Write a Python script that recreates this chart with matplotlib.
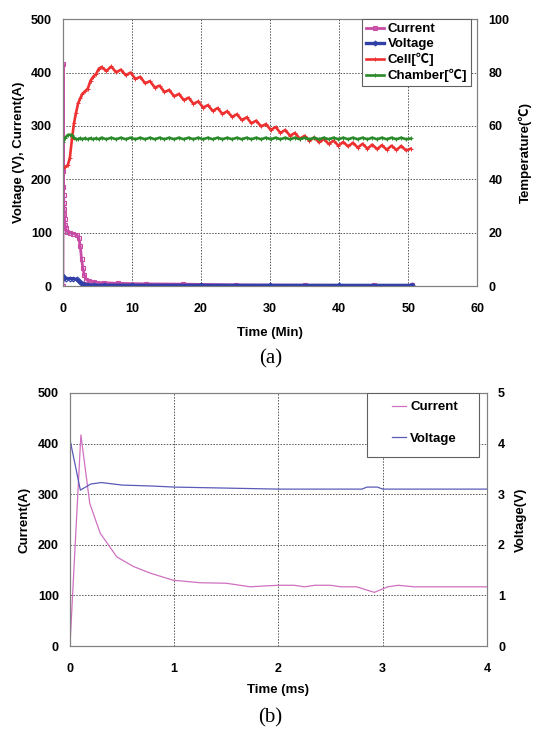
import matplotlib
matplotlib.use("Agg")
import matplotlib.pyplot as plt
from matplotlib.patches import Rectangle

plt.rcParams['font.family'] = ['Liberation Sans', 'Noto Sans CJK KR', 'DejaVu Sans']
plt.rcParams['font.weight'] = 'bold'

# ---- (a) long run, minutes ----
t_cur = [0, 0.02, 0.05, 0.08, 0.11, 0.14, 0.17, 0.2, 0.25, 0.3, 0.4, 0.6, 1.0, 1.5, 2.0,
         2.3, 2.5, 2.7, 2.9, 3.1, 3.4, 3.8, 4.5, 6, 8, 12, 17.4, 25, 35, 45, 50.6]
current_a = [0, 417, 215, 185, 170, 155, 145, 135, 125, 115, 108, 102, 100, 98, 96,
             90, 75, 50, 33, 20, 12, 9, 7, 6, 5, 4, 3.5, 2, 1.5, 1, 1]

t_vol = [0, 0.1, 0.5, 1.0, 1.5, 2.0, 2.3, 2.6, 2.9, 3.2, 3.6, 4.5, 6, 10, 20, 30, 40, 50.6]
voltage_a = [19, 15, 14, 14, 13.5, 12.5, 10, 6, 3.5, 2.5, 2, 1.6, 1.5, 1.4, 1.3, 1.2, 1.2, 1.2]

t_temp = [0, 0.3, 0.7, 1.0, 1.3, 1.6, 1.9, 2.2, 2.5, 2.8, 3.2, 3.6, 4.0, 4.4, 4.8, 5.2,
          5.6, 6.3, 7.0, 7.7, 8.4, 9.1, 9.8, 10.5, 11.2, 11.9, 12.6, 13.3, 14.0, 14.7,
          15.4, 16.1, 16.8, 17.5, 18.2, 18.9, 19.6, 20.3, 21.0, 21.7, 22.4, 23.1, 23.8,
          24.5, 25.2, 25.9, 26.6, 27.3, 28.0, 28.7, 29.4, 30.1, 30.8, 31.5, 32.2, 32.9,
          33.6, 34.3, 35.0, 35.7, 36.4, 37.1, 37.8, 38.5, 39.2, 39.9, 40.6, 41.3, 42.0,
          42.7, 43.4, 44.1, 44.8, 45.5, 46.2, 46.9, 47.6, 48.3, 49.0, 49.7, 50.4]
cell = [44.2, 44.5, 45.3, 48.0, 55.0, 61.0, 65.0, 68.5, 70.3, 72.0, 73.0, 74.0, 77.0, 78.5, 79.5, 81.5,
        82.1, 80.6, 82.3, 80.1, 81.1, 79.0, 80.0, 77.6, 78.4, 76.0, 76.8, 74.4, 75.1, 72.7,
        73.5, 71.1, 72.0, 69.7, 70.6, 68.3, 69.2, 66.9, 67.8, 65.6, 66.7, 64.5, 65.5,
        63.4, 64.4, 62.2, 63.2, 61.0, 62.0, 59.8, 60.7, 58.5, 59.6, 57.4, 58.5, 56.3,
        57.4, 55.2, 56.3, 54.4, 55.7, 53.8, 55.1, 53.2, 54.5, 52.6, 54.0, 52.3, 53.7,
        51.9, 53.3, 51.5, 53.0, 51.3, 52.8, 51.1, 52.6, 51.0, 52.5, 50.8, 51.5]
chamber = [54.0, 55.5, 56.6, 56.7, 56.5, 55.6, 55.1, 55.0, 55.4, 55.0, 55.4, 55.0, 55.4, 55.0, 55.4, 55.0,
           55.6, 55.0, 55.6, 55.0, 55.6, 55.0, 55.6, 55.0, 55.6, 55.0, 55.6, 55.0, 55.6, 55.0,
           55.6, 55.0, 55.6, 55.0, 55.6, 55.0, 55.6, 55.0, 55.6, 55.0, 55.6, 55.0, 55.6,
           55.0, 55.6, 55.0, 55.6, 55.0, 55.6, 55.0, 55.6, 55.0, 55.6, 55.0, 55.6, 55.0,
           55.6, 55.0, 55.6, 55.0, 55.6, 55.0, 55.6, 55.0, 55.6, 55.0, 55.6, 55.0, 55.6,
           55.0, 55.6, 55.0, 55.6, 55.0, 55.6, 55.0, 55.6, 55.0, 55.6, 55.0, 55.3]

# ---- (b) first milliseconds ----
t_b_cur = [0, 0.105, 0.19, 0.29, 0.45, 0.61, 0.77, 0.99, 1.25, 1.5, 1.73, 1.9, 2.0, 2.15,
           2.25, 2.35, 2.5, 2.6, 2.75, 2.92, 3.05, 3.15, 3.3, 3.6, 4.0]
current_b = [0, 417, 282, 223, 176, 157, 144, 130, 125, 124, 117, 119, 120, 120,
             117, 120, 120, 117, 117, 106, 117, 120, 117, 117, 117]
t_b_vol = [0, 0.1, 0.2, 0.3, 0.5, 0.8, 1.0, 1.5, 2.0, 2.8, 2.85, 2.95, 3.0, 4.0]
voltage_b = [4.08, 3.08, 3.2, 3.23, 3.18, 3.16, 3.14, 3.12, 3.1, 3.1, 3.14, 3.14, 3.1, 3.1]

spine_col = '#808080'
grid_kw = dict(color='#555555', linestyle=(0, (1.5, 1.5)), linewidth=0.7)
tick_fs = 9
label_fs = 9.5

fig = plt.figure(figsize=(5.38, 7.40), dpi=100)

# ================= (a) =================
ax = fig.add_axes([0.117, 0.6135, 0.77, 0.3605])
ax2 = ax.twinx()

ax.plot(t_cur, current_a, color='#c84ca6', lw=2.0, marker='s', ms=2.5, mfc='none', mew=0.8,
        label='Current', zorder=3)
ax.plot(t_vol, voltage_a, color='#3040a8', lw=2.4, marker='D', ms=2.5, mfc='none', mew=0.8,
        label='Voltage', zorder=4)
ax2.plot(t_temp, cell, color='#ee3030', lw=1.9, marker='+', ms=2.5, mew=0.7, label='Cell[℃]')
ax2.plot(t_temp, chamber, color='#2a8a2a', lw=1.9, marker='+', ms=2.5, mew=0.7, label='Chamber[℃]')

ax.set_xlim(0, 60)
ax.set_ylim(0, 500)
ax2.set_ylim(0, 100)
ax.set_xticks([0, 10, 20, 30, 40, 50, 60])
ax.set_yticks([0, 100, 200, 300, 400, 500])
ax2.set_yticks([0, 20, 40, 60, 80, 100])
ax.grid(True, **grid_kw)
ax.set_axisbelow(True)

for a in (ax, ax2):
    for s in a.spines.values():
        s.set_color(spine_col)
    a.tick_params(length=0, labelsize=tick_fs, pad=8)
ax.tick_params(axis='x', pad=12)

ax.set_xlabel('Time (Min)', fontsize=label_fs, fontweight='bold', labelpad=9)
ax.set_ylabel('Voltage (V), Current(A)', fontsize=label_fs, fontweight='bold', labelpad=4)
ax2.set_ylabel('Temperature(℃)', fontsize=label_fs, fontweight='bold', labelpad=7)

h1, l1 = ax.get_legend_handles_labels()
h2, l2 = ax2.get_legend_handles_labels()
leg = ax2.legend(h1 + h2, l1 + l2, loc='upper right', bbox_to_anchor=(0.985, 1.0),
                 borderaxespad=0, fancybox=False, framealpha=1, edgecolor='#606060',
                 fontsize=label_fs, handlelength=1.3, handletextpad=0.3, labelspacing=0.2,
                 borderpad=0.3)
leg.get_frame().set_linewidth(0.8)

fig.text(0.503, 0.515, '(a)', ha='center', va='center', fontsize=15,
         family='Liberation Serif', fontweight='normal')

# ================= (b) =================
bx = fig.add_axes([0.130, 0.127, 0.775, 0.342])
bx2 = bx.twinx()

bx.plot(t_b_cur, current_b, color='#d070c0', lw=0.9, label='Current')
bx2.plot(t_b_vol, voltage_b, color='#5a5ab8', lw=0.9, label='Voltage')

bx.set_xlim(0, 4)
bx.set_ylim(0, 500)
bx2.set_ylim(0, 5)
bx.set_xticks([0, 1, 2, 3, 4])
bx.set_yticks([0, 100, 200, 300, 400, 500])
bx2.set_yticks([0, 1, 2, 3, 4, 5])
bx.grid(True, **grid_kw)
bx.set_axisbelow(True)

for a in (bx, bx2):
    for s in a.spines.values():
        s.set_color(spine_col)
    a.tick_params(length=0, labelsize=tick_fs, pad=8)
bx.tick_params(axis='x', pad=12)

bx.set_xlabel('Time (ms)', fontsize=label_fs, fontweight='bold', labelpad=7)
bx.set_ylabel('Current(A)', fontsize=label_fs, fontweight='bold', labelpad=5)
bx2.set_ylabel('Voltage(V)', fontsize=label_fs, fontweight='bold', labelpad=7)

# legend frame drawn by hand, the original box has a wide left margin
bx2.add_patch(Rectangle((0.712, 0.747), 0.269, 0.253, transform=bx2.transAxes,
                        facecolor='white', edgecolor='#606060', lw=0.8, zorder=4))
hb1, lb1 = bx.get_legend_handles_labels()
hb2, lb2 = bx2.get_legend_handles_labels()
legb = bx2.legend(hb1 + hb2, lb1 + lb2, loc='upper left', bbox_to_anchor=(0.772, 0.968),
                  borderaxespad=0, frameon=False, fontsize=label_fs, handlelength=1.1,
                  handletextpad=0.3, labelspacing=1.45, borderpad=0)
legb.set_zorder(5)

fig.text(0.503, 0.030, '(b)', ha='center', va='center', fontsize=15,
         family='Liberation Serif', fontweight='normal')

fig.savefig('out.png', dpi=100)
